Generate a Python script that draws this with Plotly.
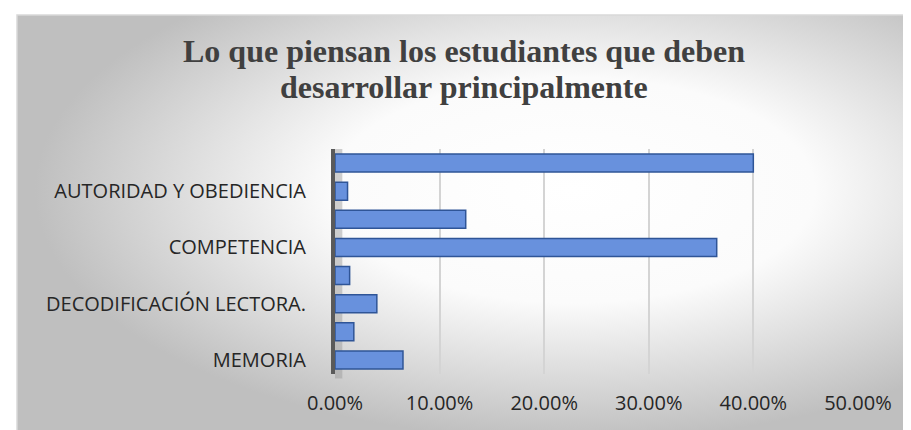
import base64
import plotly.graph_objects as go

# rows listed top -> bottom; only every other label is printed in the original chart
row_labels = ["", "AUTORIDAD Y OBEDIENCIA", "", "COMPETENCIA", "", "DECODIFICACIÓN LECTORA.", "", "MEMORIA"]
row_values = [0.400, 0.012, 0.125, 0.365, 0.014, 0.040, 0.018, 0.065]
x_ticks = [0.0, 0.1, 0.2, 0.3, 0.4, 0.5]
title_lines = ["Lo que piensan los estudiantes que deben", "desarrollar principalmente"]

W, H = 911, 430
L, R, T, B = 327, 61, 141, 64
pw, ph = W - L - R, H - T - B


def px_to_paper_x(px):
    return (px - L) / pw


def px_to_paper_y(py):
    return (H - B - py) / ph


# radial grey->white background like the office chart style
svg = (
    '<svg xmlns="http://www.w3.org/2000/svg" width="900" height="420">'
    '<defs><radialGradient id="g" cx="0.62" cy="0.42" r="0.6">'
    '<stop offset="0" stop-color="#ffffff"/>'
    '<stop offset="0.45" stop-color="#fbfbfb"/>'
    '<stop offset="1" stop-color="#bfbfbf"/>'
    '</radialGradient></defs>'
    '<rect width="900" height="420" fill="url(#g)"/></svg>'
)
bg_src = "data:image/svg+xml;base64," + base64.b64encode(svg.encode()).decode()

pos = list(range(len(row_labels)))

fig = go.Figure(go.Bar(
    x=row_values,
    y=pos,
    orientation="h",
    marker=dict(color="#6891dd", line=dict(color="#2f5597", width=1.5)),
    hoverinfo="x",
))

box_x0, box_x1 = px_to_paper_x(9), px_to_paper_x(905)
box_y0, box_y1 = px_to_paper_y(424), px_to_paper_y(7)

# two title lines placed separately so the line spacing matches the original
title_annots = [
    dict(text=f"<b>{t}</b>", xref="paper", yref="paper",
         x=px_to_paper_x(456), y=px_to_paper_y(yc), xanchor="center", yanchor="middle",
         showarrow=False, font=dict(family="Liberation Serif", size=32, color="#404040"))
    for t, yc in zip(title_lines, [43, 79])
]

fig.update_layout(
    width=W, height=H,
    margin=dict(l=L, r=R, t=T, b=B),
    paper_bgcolor="white",
    plot_bgcolor="rgba(0,0,0,0)",
    showlegend=False,
    bargap=0.36,
    font=dict(family="Open Sans", size=20, color="#262626"),
    annotations=title_annots,
    images=[dict(
        source=bg_src, xref="paper", yref="paper",
        x=box_x0, y=box_y1, sizex=box_x1 - box_x0, sizey=box_y1 - box_y0,
        xanchor="left", yanchor="top", sizing="stretch", layer="below",
    )],
    shapes=[
        dict(type="rect", xref="paper", yref="paper",
             x0=box_x0, x1=box_x1, y0=box_y0, y1=box_y1,
             line=dict(color="#d9d9d9", width=1.5), fillcolor="rgba(0,0,0,0)"),
        dict(type="rect", xref="x", yref="paper", x0=0, x1=0.007, y0=-0.02, y1=1.0,
             line=dict(width=0), fillcolor="rgba(150,150,150,0.45)", layer="below"),
    ],
)

fig.update_xaxes(
    range=[0, 0.5001],
    tickvals=x_ticks,
    tickformat=".2%",
    showgrid=True, gridcolor="#d4d4d4", gridwidth=1.5,
    zeroline=False, showline=False,
    ticks="outside", ticklen=11, tickcolor="rgba(0,0,0,0)",
    tickfont=dict(size=20, color="#262626"),
    fixedrange=True,
)
fig.update_yaxes(
    range=[len(pos) - 0.5, -0.5],
    tickvals=pos,
    ticktext=row_labels,
    showgrid=False, zeroline=False,
    showline=True, linecolor="#5a5a5a", linewidth=4,
    ticks="outside", ticklen=21, tickcolor="rgba(0,0,0,0)",
    tickfont=dict(size=20, color="#262626"),
    fixedrange=True,
)

fig.write_html("out.html")
